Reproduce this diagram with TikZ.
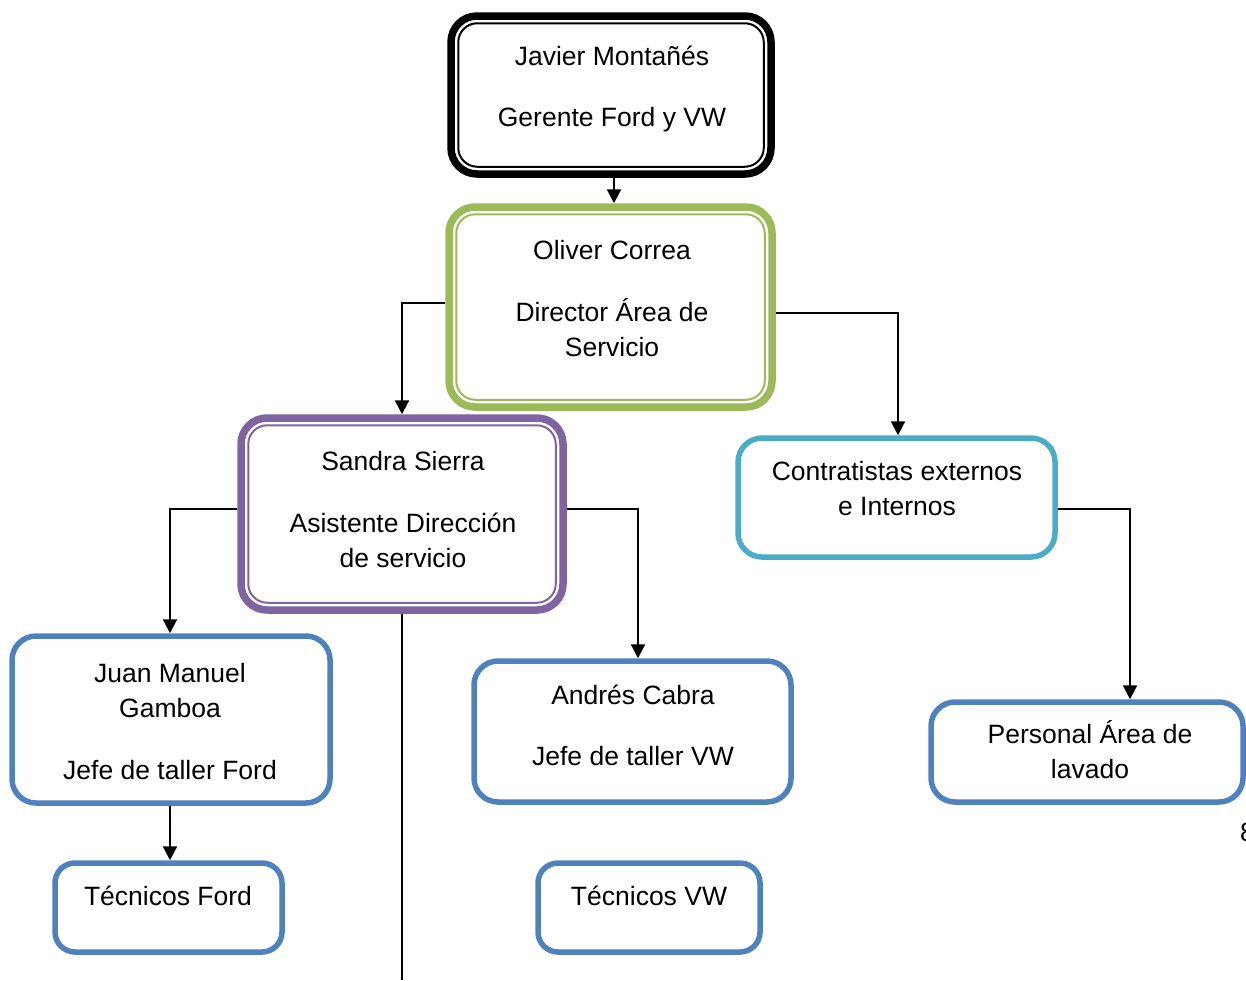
\documentclass[tikz,border=0pt]{standalone}
\usepackage{fontspec}
\setmainfont{Liberation Sans}
\usetikzlibrary{arrows.meta}
\definecolor{cgreen}{HTML}{9BBB59}
\definecolor{cpurple}{HTML}{8064A2}
\definecolor{ccyan}{HTML}{4BACC6}
\definecolor{cblue}{HTML}{4F81BD}
\tikzset{
  boxnode/.style={rectangle, rounded corners=26pt, inner sep=0pt, fill=white},
  heavybox/.style={boxnode, line width=7.5pt},
  bluebox/.style={boxnode, line width=5.5pt, rounded corners=24pt},
  innerline/.style={line width=2pt, rounded corners=19pt},
  txt/.style={anchor=base, inner sep=0pt, font=\fontsize{26.5}{32}\selectfont},
  conn/.style={line width=2.2pt, draw=black},
  arr/.style={conn, -{Triangle[length=14pt,width=14pt]}}
}
\begin{document}
\begin{tikzpicture}[x=1pt,y=-1pt]
\useasboundingbox (0,0) rectangle (1246,980);
% boxes
\node[heavybox, draw=black, minimum width=320pt, minimum height=158pt] (b1) at (611,95) {};
\draw[innerline, black] ([shift={(11pt,-11pt)}]b1.north west) rectangle ([shift={(-11pt,11pt)}]b1.south east);
\node[heavybox, draw=cgreen, minimum width=323pt, minimum height=200pt] (b2) at (610.5,307) {};
\draw[innerline, cgreen] ([shift={(11pt,-11pt)}]b2.north west) rectangle ([shift={(-11pt,11pt)}]b2.south east);
\node[heavybox, draw=cpurple, minimum width=322pt, minimum height=192pt] (b3) at (402,514) {};
\draw[innerline, cpurple] ([shift={(11pt,-11pt)}]b3.north west) rectangle ([shift={(-11pt,11pt)}]b3.south east);
\node[bluebox, draw=ccyan, minimum width=317pt, minimum height=119pt] (b4) at (896.5,497.5) {};
\node[bluebox, draw=cblue, minimum width=318pt, minimum height=167pt] (b5) at (171,719.5) {};
\node[bluebox, draw=cblue, minimum width=317pt, minimum height=141pt] (b6) at (632.5,731.5) {};
\node[bluebox, draw=cblue, minimum width=312pt, minimum height=100pt] (b7) at (1087,752) {};
\node[bluebox, draw=cblue, rounded corners=20pt, minimum width=227pt, minimum height=89pt] (b8) at (168.5,907.5) {};
\node[bluebox, draw=cblue, rounded corners=20pt, minimum width=222pt, minimum height=89pt] (b9) at (649,907.5) {};
% texts
\node[txt] (t1a) at (612,65) {Javier Montañés};
\node[txt] (t1b) at (612,126) {Gerente Ford y VW};
\node[txt] (t2a) at (612,259) {Oliver Correa};
\node[txt] (t2b) at (612,321) {Director Área de};
\node[txt] (t2c) at (612,356) {Servicio};
\node[txt] (t3a) at (403,470) {Sandra Sierra};
\node[txt] (t3b) at (403,532) {Asistente Dirección};
\node[txt] (t3c) at (403,567) {de servicio};
\node[txt] (t4a) at (897,480) {Contratistas externos};
\node[txt] (t4b) at (897,515) {e Internos};
\node[txt] (t5a) at (170,682) {Juan Manuel};
\node[txt] (t5b) at (170,717) {Gamboa};
\node[txt] (t5c) at (170,779) {Jefe de taller Ford};
\node[txt] (t6a) at (633,704) {Andrés Cabra};
\node[txt] (t6b) at (633,765) {Jefe de taller VW};
\node[txt] (t7a) at (1090,743) {Personal Área de};
\node[txt] (t7b) at (1090,778) {lavado};
\node[txt] (t8a) at (168,905) {Técnicos Ford};
\node[txt] (t9a) at (649,905) {Técnicos VW};
\node[txt, anchor=base west] (pg) at (1240,841) {8};
% connectors
\draw[arr] ([xshift=3pt]b1.south) -- ([xshift=3pt]b1.south |- b2.north);
\draw[arr] (b2.west |- 0,303) -| (b3.north);
\draw[arr] (b2.east |- 0,313) -| ([xshift=1.5pt]b4.north);
\draw[arr] (b3.west |- 0,509) -| ([xshift=-1pt]b5.north);
\draw[arr] (b3.east |- 0,509) -| ([xshift=5.5pt]b6.north);
\coordinate (pend) at (402,980);
\draw[conn] (b3.south) -- (pend);
\draw[arr] (b4.east |- 0,509) -| ([xshift=43pt]b7.north);
\draw[arr] ([xshift=-1pt]b5.south) -- ([xshift=-1pt]b5.south |- b8.north);
\end{tikzpicture}
\end{document}
